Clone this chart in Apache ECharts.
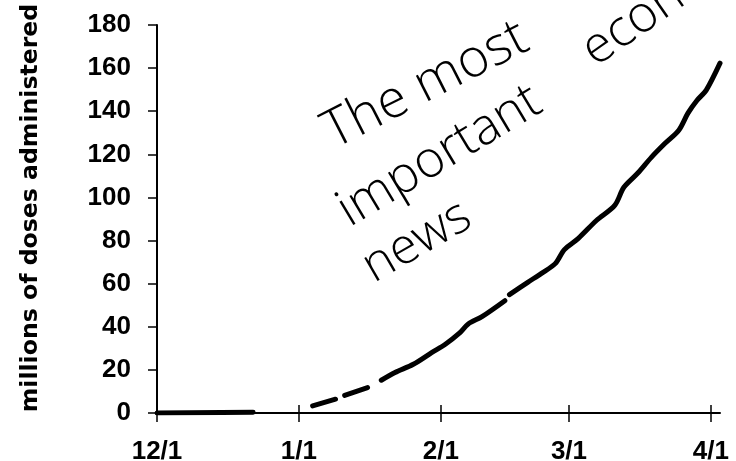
<!DOCTYPE html>
<html>
<head>
<meta charset="utf-8">
<script src="https://cdn.jsdelivr.net/npm/echarts@6/dist/echarts.min.js"></script>
<style>
html,body{margin:0;padding:0;background:#fff;}
#chart{width:736px;height:461px;}
</style>
</head>
<body>
<div id="chart"></div>
<script>
// ---- data ----
const startDate = '2020-12-01';
const axisEndDate = '2021-04-03';
const tickDates = ['2020-12-01', '2021-01-01', '2021-02-01', '2021-03-01', '2021-04-01'];
const tickLabels = ['12/1', '1/1', '2/1', '3/1', '4/1'];
const yTitle = 'millions of doses administered';
// null = pen lifted (gap in the hand-drawn line)
const pointDates = [
  '2020-12-01', '2020-12-22',
  '2020-12-28',
  '2021-01-04', '2021-01-09',
  '2021-01-10',
  '2021-01-11', '2021-01-16',
  '2021-01-17',
  '2021-01-19', '2021-01-22', '2021-01-26', '2021-01-30', '2021-02-02', '2021-02-05', '2021-02-07', '2021-02-10', '2021-02-15',
  '2021-02-15T18:00',
  '2021-02-16', '2021-02-20', '2021-02-23', '2021-02-26', '2021-02-28', '2021-03-03', '2021-03-07', '2021-03-11', '2021-03-13',
  '2021-03-16', '2021-03-19', '2021-03-22', '2021-03-25', '2021-03-27', '2021-03-29', '2021-03-31', '2021-04-03'
];
const doses = [
  0, 0.3,
  null,
  3.3, 6.4,
  null,
  8.2, 11.8,
  null,
  15.2, 18.8, 22.6, 28, 31.9, 36.9, 41.3, 44.7, 52.1,
  null,
  54.9, 60.6, 64.8, 69.3, 75.8, 80.9, 89.3, 96.3, 104.7,
  111.2, 118.6, 125.1, 131.2, 139.1, 145.1, 149.8, 162.3
];
const notes = ['The most', 'important', 'economic', 'news'];

// ---- build ----
const DAY = 86400000;
const t0 = Date.parse(startDate + 'T00:00:00Z');
const dayOf = s => (Date.parse((s.length === 10 ? s + 'T00:00:00' : s + ':00') + 'Z') - t0) / DAY;
const tickDays = tickDates.map(dayOf);
const lineData = pointDates.map((d, i) => [dayOf(d), doses[i] === null ? '-' : doses[i]]);

function note(text, bx, by, deg, fs) {
  const th = deg * Math.PI / 180;
  return {
    type: 'text',
    x: bx - Math.sin(th) * 0.3 * fs,
    y: by - Math.cos(th) * 0.3 * fs,
    rotation: th,
    z: 10,
    style: {
      text: text,
      fill: '#000',
      font: '350 ' + fs + 'px "Open Sans"',
      textAlign: 'left',
      textVerticalAlign: 'middle'
    }
  };
}

const chart = echarts.init(document.getElementById('chart'), null, {renderer: 'canvas'});
const tickFont = {fontFamily: 'Liberation Sans', fontWeight: 'bold', fontSize: 26, color: '#000'};
chart.setOption({
  backgroundColor: '#fff',
  animation: false,
  grid: {left: 157, right: 16, top: 25, bottom: 48, containLabel: false, outerBoundsMode: 'none'},
  xAxis: [{
    type: 'value',
    min: 0,
    max: dayOf(axisEndDate),
    axisLine: {show: true, onZero: false, lineStyle: {color: '#000', width: 2}},
    axisTick: {show: true, customValues: tickDays, length: 9, lineStyle: {color: '#000', width: 1.5}},
    axisLabel: Object.assign({
      customValues: tickDays,
      margin: 26,
      formatter: v => tickLabels[tickDays.indexOf(v)] || ''
    }, tickFont),
    splitLine: {show: false}
  }, {
    type: 'value',
    position: 'bottom',
    min: 0,
    max: dayOf(axisEndDate),
    axisLine: {show: false},
    axisTick: {show: true, inside: true, customValues: tickDays, length: 8, lineStyle: {color: '#000', width: 1.5}},
    axisLabel: {show: false},
    splitLine: {show: false}
  }],
  yAxis: {
    type: 'value',
    min: 0,
    max: 180,
    interval: 20,
    axisLine: {show: true, lineStyle: {color: '#000', width: 2}},
    axisTick: {show: true, length: 9, lineStyle: {color: '#000', width: 1.5}},
    axisLabel: Object.assign({margin: 26}, tickFont),
    splitLine: {show: false}
  },
  graphic: [
    {
      type: 'text',
      x: 31,
      y: 208,
      rotation: Math.PI / 2,
      style: {
        text: yTitle,
        fill: '#000',
        font: 'bold 23.6px "DejaVu Sans"',
        textAlign: 'center',
        textVerticalAlign: 'middle'
      }
    },
    note(notes[0], 334, 150, 27, 53),
    note(notes[1], 350, 228, 31, 51),
    note(notes[2], 596, 68, 35, 51),
    note(notes[3], 374, 284, 30, 50)
  ],
  series: [{
    type: 'line',
    data: lineData,
    connectNulls: false,
    showSymbol: false,
    symbol: 'none',
    smooth: 0.3,
    lineStyle: {color: '#000', width: 5, cap: 'round', join: 'round'},
    z: 5
  }]
});
</script>
</body>
</html>
